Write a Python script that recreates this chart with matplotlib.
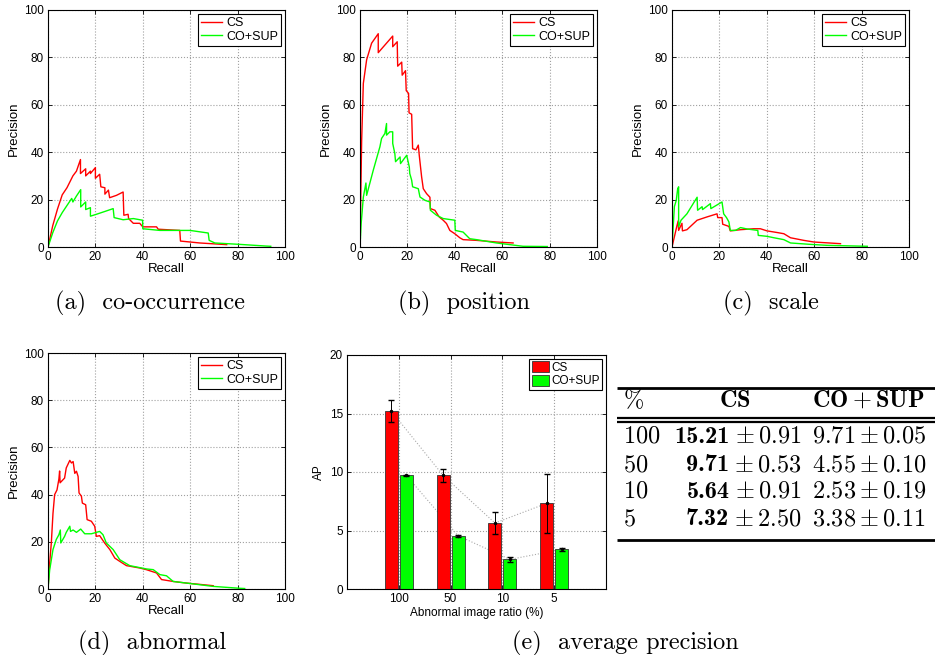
import numpy as np
import matplotlib
matplotlib.use('Agg')
import matplotlib.pyplot as plt

plt.rcParams['font.family'] = 'Liberation Sans'
plt.rcParams['mathtext.fontset'] = 'cm'

# precision / recall curves (recall %, precision %)
cooc_cs_r = [0, 2, 4, 6, 8, 10, 10.5, 12, 13.7, 13.7, 15.9, 15.9, 17.9, 17.9, 20, 20, 21.8, 22.3, 24, 24,
             25.5, 26, 28.9, 31.7, 32, 33.8, 34, 36, 38.7, 40, 45.8, 46.5, 55.6, 55.9, 60, 64, 75.4]
cooc_cs_p = [0, 9, 16, 22, 25, 29, 30, 32, 36.9, 31, 33, 30, 32, 31, 33.5, 29, 30.7, 25.4, 25, 22.3,
             24, 20.8, 21.8, 23.2, 13.4, 13.8, 12, 10, 10, 8.5, 8.5, 7.5, 7, 2.5, 2.1, 1.7, 1]
cooc_co_r = [0, 2, 4, 6, 8, 10, 10.5, 12, 13.8, 13.8, 15.9, 15.9, 17.9, 17.9, 20.4, 24, 27.5, 27.9, 31.7,
             36, 39.9, 40, 47.2, 59.9, 67.6, 68, 70.4, 81, 92, 94]
cooc_co_p = [0, 6, 11, 14.5, 17.5, 20.5, 19, 21.5, 24.2, 16.9, 19, 15.8, 16.6, 13, 13.8, 15, 16.2, 12.4, 11.5,
             12, 11.3, 7.7, 7, 7, 5.9, 2.8, 1.7, 1.1, 0.4, 0.3]

pos_cs_r = [0, 0.3, 0.7, 1.4, 2.8, 4.9, 7.7, 7.7, 13.8, 13.8, 15.7, 15.9, 17.6, 17.8, 19.2, 19.5, 20.5, 20.7,
            21.8, 22.2, 23.6, 24.6, 25, 26, 26.7, 28.1, 29.5, 29.7, 31.6, 33.4, 35.1, 36.5, 37.9, 40, 42.1,
            43.5, 49.2, 57.6, 64.6]
pos_cs_p = [0, 20, 45, 69, 79, 86, 90, 82, 89, 84.5, 86.6, 76.3, 78, 72.5, 74.4, 66, 64.8, 56.6,
            56, 41.5, 41, 43, 38.7, 29.6, 24.6, 22.5, 21, 16.2, 15.5, 12.7, 11.3, 9.9, 7, 5.6, 3.9,
            3.1, 2.8, 2.1, 1.7]
pos_co_r = [0, 0.5, 1.4, 2.5, 2.8, 5.6, 8.4, 9.1, 10.5, 11.2, 11.2, 12.6, 13.8, 13.8, 14.7, 15, 16.9, 17.1,
            19.7, 20.8, 21, 21.8, 22.2, 24.6, 25.3, 27.4, 29.5, 29.7, 32.3, 35.1, 40, 40.2, 43.5, 46.3,
            49.2, 57.6, 68.8, 79]
pos_co_p = [0, 10, 21, 27, 21.8, 32.4, 42.3, 45.8, 47.9, 52.1, 47.2, 48.6, 48.6, 43.7, 39.4, 36, 38, 35.2,
            38.7, 33.8, 31, 28.2, 25.4, 24.6, 21.1, 19.7, 19, 15.5, 13.4, 12, 11.3, 7, 6.3, 3.5,
            3.1, 1.7, 0.3, 0.2]

scale_cs_r = [0, 1.4, 2.1, 2.6, 2.8, 4.2, 4.4, 6.3, 10.6, 14.8, 19, 19.3, 21.1, 21.4, 24, 24.6, 28.9,
              34.5, 37.3, 40.1, 44.4, 47.2, 50, 55.6, 59.9, 71.1]
scale_cs_p = [0, 6, 9, 11, 7, 10, 6.8, 7.3, 11.3, 12.7, 14, 12.4, 12.4, 9.6, 8.7, 6.8, 7.3,
              7.7, 7.7, 6.8, 6.1, 5.6, 3.9, 2.8, 2.1, 1.4]
scale_co_r = [0, 1, 1.8, 2.4, 2.8, 2.8, 3.8, 6.3, 10.6, 10.8, 12.7, 12.9, 16.2, 16.4, 21.1, 21.8, 23, 24,
              24.6, 26.8, 28.9, 31.7, 36.2, 36.4, 40.1, 43, 47.2, 50, 58.5, 65.5, 82.4]
scale_co_p = [0, 17, 19.7, 24.6, 25.4, 8.5, 11.3, 14, 21, 15.5, 17, 15.8, 18.3, 16.2, 19, 14, 12.4, 10.6,
              7, 7, 8.2, 7.6, 7, 4.9, 4.5, 3.9, 3.1, 1.7, 1.1, 0.7, 0.3]

abn_cs_r = [0, 0.7, 1.4, 2.1, 2.8, 3.8, 4.6, 4.9, 5.1, 7, 7.7, 9.2, 9.9, 10.6, 11.3, 12, 12.7, 13.1, 14.1,
            14.5, 15.9, 16.5, 18.3, 19.7, 20.4, 21.8, 23.9, 26.1, 28.2, 30.3, 33.1, 38.7, 41.5, 45.8,
            47.9, 52.8, 58.5, 69.7]
abn_cs_p = [0, 11, 19.5, 32, 40, 42, 46.6, 50, 45, 47, 51.3, 54.5, 53.4, 54, 49, 49.9, 47.7, 40.7, 39.3,
            36.4, 35.7, 29.4, 28.7, 26.6, 22.3, 22.6, 19.5, 16.7, 13.1, 11.7, 9.9, 8.9, 8.2, 6.8,
            4, 3.2, 2.5, 1.4]
abn_co_r = [0, 0.7, 2.1, 3.5, 4.6, 5.2, 5.4, 7, 7.7, 9.2, 9.5, 10.6, 12, 13.8, 15.5, 18.3, 20.4, 21.8,
            23.2, 24.6, 27.5, 30.3, 34.5, 41.5, 44.4, 47.2, 50, 52.8, 58.5, 69.7, 81, 83]
abn_co_p = [0, 8, 16.7, 21, 23, 25, 19.5, 22.3, 24, 26.6, 24.4, 25, 24, 25.4, 23.4, 23.4, 24, 24.4,
            23, 19.5, 16.7, 12.4, 9.9, 8.5, 8.2, 6.1, 5.6, 3.2, 2.5, 1.1, 0.3, 0.2]

# average precision table
ratios = ['100', '50', '10', '5']
cs_mean = [15.21, 9.71, 5.64, 7.32]
cs_std = [0.91, 0.53, 0.91, 2.50]
co_mean = [9.71, 4.55, 2.53, 3.38]
co_std = [0.05, 0.10, 0.19, 0.11]

W, H = 935, 655
fig = plt.figure(figsize=(W / 100, H / 100), dpi=100)


def px_axes(x0, y0, x1, y1):
    return fig.add_axes([x0 / W, 1 - y1 / H, (x1 - x0) / W, (y1 - y0) / H])


def matlab_style(ax):
    ax.tick_params(direction='in', length=3, width=0.6, top=True, right=True,
                   labelsize=8.5, pad=3)
    ax.grid(True, color='#a0a0a0', linestyle=':', linewidth=0.8)
    ax.set_axisbelow(True)
    for s in ax.spines.values():
        s.set_linewidth(0.8)


def pr_plot(box, cs_r, cs_p, co_r, co_p):
    ax = px_axes(*box)
    ax.plot(cs_r, cs_p, color='#ff0000', lw=1.0, label='CS')
    ax.plot(co_r, co_p, color='#00ff00', lw=1.0, label='CO+SUP')
    ax.set_xlim(0, 100)
    ax.set_ylim(0, 100)
    ax.set_xticks(range(0, 101, 20))
    ax.set_yticks(range(0, 101, 20))
    matlab_style(ax)
    ax.set_xlabel('Recall', fontsize=9.5, labelpad=0)
    ax.set_ylabel('Precision', fontsize=9.5, labelpad=3)
    leg = ax.legend(loc='upper right', fontsize=9, fancybox=False, edgecolor='black',
                    framealpha=1, handlelength=1.7, handletextpad=0.3, borderpad=0.25,
                    labelspacing=0.15, borderaxespad=0.3)
    leg.get_frame().set_linewidth(0.8)
    return ax


pr_plot((48, 10, 285, 247), cooc_cs_r, cooc_cs_p, cooc_co_r, cooc_co_p)
pr_plot((360, 10, 597, 247), pos_cs_r, pos_cs_p, pos_co_r, pos_co_p)
pr_plot((672, 10, 909, 247), scale_cs_r, scale_cs_p, scale_co_r, scale_co_p)
pr_plot((48, 353, 285, 589), abn_cs_r, abn_cs_p, abn_co_r, abn_co_p)

# (e) bar chart
ax = px_axes(347, 355, 606, 589)
x = np.arange(1, len(ratios) + 1)
off, bw = 0.145, 0.25
ax.plot(x - off, cs_mean, ':', color='#aaaaaa', lw=0.8, zorder=1)
ax.plot(x + off, co_mean, ':', color='#aaaaaa', lw=0.8, zorder=1)
ax.bar(x - off, cs_mean, bw, color='#ff0000', edgecolor='#333333', linewidth=0.6, label='CS', zorder=2)
ax.bar(x + off, co_mean, bw, color='#00ff00', edgecolor='#333333', linewidth=0.6, label='CO+SUP', zorder=2)
ax.errorbar(x - off, cs_mean, yerr=cs_std, fmt='k.', markersize=3, capsize=2, elinewidth=0.7, zorder=3)
ax.errorbar(x + off, co_mean, yerr=co_std, fmt='k.', markersize=3, capsize=2, elinewidth=0.7, zorder=3)
ax.set_xlim(0, 5)
ax.set_ylim(0, 20)
ax.set_xticks(x)
ax.set_xticklabels(ratios)
ax.set_yticks(range(0, 21, 5))
matlab_style(ax)
ax.set_xlabel('Abnormal image ratio (%)', fontsize=8.5, labelpad=1)
ax.set_ylabel('AP', fontsize=8.5, labelpad=3)
leg = ax.legend(loc='upper right', fontsize=8.5, fancybox=False, edgecolor='black', framealpha=1,
                handlelength=1.4, handleheight=1.0, handletextpad=0.2, borderpad=0.25,
                labelspacing=0.1, borderaxespad=0.3)
leg.get_frame().set_linewidth(0.8)

# table next to the bar chart
tb = px_axes(610, 375, 935, 555)
tb.set_xlim(610, 935)
tb.set_ylim(555, 375)
tb.axis('off')
tb.plot([617, 935], [388, 388], color='black', lw=2.0, solid_capstyle='butt')
tb.plot([617, 935], [418, 418], color='black', lw=1.6, solid_capstyle='butt')
tb.plot([617, 935], [422.5, 422.5], color='black', lw=1.6, solid_capstyle='butt')
tb.plot([617, 935], [540, 540], color='black', lw=2.0, solid_capstyle='butt')
fs = 17.5
tb.text(623, 407, r'$\%$', fontsize=fs, ha='left', va='baseline')
tb.text(735, 407, r'$\mathbf{CS}$', fontsize=fs, ha='center', va='baseline')
tb.text(868, 407, r'$\mathbf{CO+SUP}$', fontsize=fs, ha='center', va='baseline')
renderer = fig.canvas.get_renderer()
for i, base in enumerate([443, 471, 498, 525]):
    tb.text(623, base, '$%s$' % ratios[i], fontsize=fs, ha='left', va='baseline')
    rest = tb.text(802, base, r'$\pm\:%.2f$' % cs_std[i], fontsize=fs, ha='right', va='baseline')
    x0 = tb.transData.inverted().transform((rest.get_window_extent(renderer).x0, 0))[0]
    tb.text(x0 - 5, base, '%.2f' % cs_mean[i], family='cmb10', fontsize=fs,
            ha='right', va='baseline')
    tb.text(812, base, r'$%.2f \pm %.2f$' % (co_mean[i], co_std[i]),
            fontsize=fs, ha='left', va='baseline')

# sub-captions
captions = [(150, 309, '(a)  co-occurrence'), (464, 309, '(b)  position'), (771, 309, '(c)  scale'),
            (152, 649, '(d)  abnormal'), (625, 649, '(e)  average precision')]
for cx, cy, txt in captions:
    fig.text(cx / W, 1 - cy / H, txt, family='cmr10', fontsize=fs, ha='center', va='baseline')

fig.savefig('out.png', dpi=100)
